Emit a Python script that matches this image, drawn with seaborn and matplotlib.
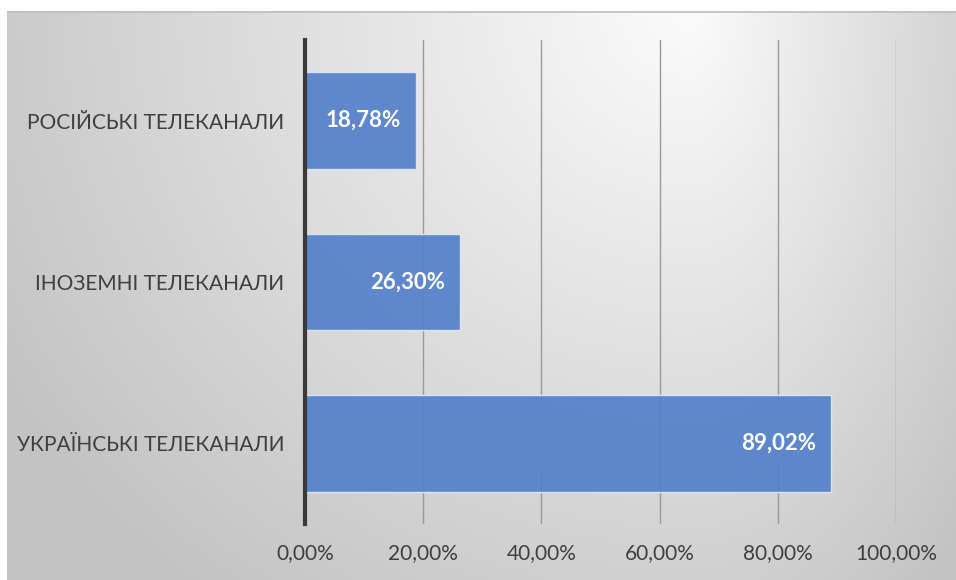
import numpy as np
import pandas as pd
import matplotlib
matplotlib.use('Agg')
import matplotlib.pyplot as plt
import seaborn as sns

categories = ['РОСІЙСЬКІ ТЕЛЕКАНАЛИ', 'ІНОЗЕМНІ ТЕЛЕКАНАЛИ', 'УКРАЇНСЬКІ ТЕЛЕКАНАЛИ']
values = [18.78, 26.30, 89.02]
x_ticks = [0, 20, 40, 60, 80, 100]

def pct_str(v):
    return f'{v:.2f}%'.replace('.', ',')

d = pd.DataFrame({'category': categories, 'value': values})

sns.set_style('white')
plt.rcParams['font.family'] = ['Lato', 'DejaVu Sans']

W, H = 956, 580
fig = plt.figure(figsize=(W / 100, H / 100), dpi=100)
fig.patch.set_facecolor('white')

# gradient background of the chart area
x0, y0 = 7, 11
bg = fig.add_axes([x0 / W, 0, 1 - x0 / W, 1 - y0 / H])
xs = np.arange(x0, W)
ys = np.arange(y0, H)
X, Y = np.meshgrid(xs, ys)
cx, cy = 690, 11
dx = np.where(X < cx, (X - cx) / 690.0, (X - cx) / 330.0)
dy = (Y - cy) / 640.0
r = np.clip(np.sqrt(dx ** 2 + dy ** 2), 0, 1.15)
v = 0.985 - 0.19 * r
bg.imshow(np.dstack([v, v, v]), aspect='auto', interpolation='bilinear')
bg.set_axis_off()
bg.axhline(0, color='#bdbdbd', lw=1.2)

ax = fig.add_axes([305 / W, 1 - 524 / H, (896 - 305) / W, (524 - 40) / H])
ax.set_facecolor('none')

sns.barplot(data=d, y='category', x='value', orient='h', ax=ax,
            color='#5682cb', saturation=1, alpha=0.94, width=0.6,
            edgecolor='#dfe8f6', linewidth=1.0, zorder=3)

ax.set_xlim(0, 100)
ax.set_xticks(x_ticks)
ax.set_xticklabels([pct_str(t) for t in x_ticks])
ax.xaxis.grid(True, color='#9a9a9a', lw=1.0, zorder=1)
ax.set_axisbelow(True)
for s in ['top', 'right', 'bottom']:
    ax.spines[s].set_visible(False)
ax.spines['left'].set_color('#3a3a3a')
ax.spines['left'].set_linewidth(3)
ax.spines['left'].set_zorder(5)
ax.tick_params(axis='both', length=0, labelsize=15, colors='#3f3f3f')
ax.tick_params(axis='x', pad=14)
ax.tick_params(axis='y', pad=15)
ax.set_xlabel('')
ax.set_ylabel('')

for i, val in enumerate(values):
    ax.annotate(pct_str(val), xy=(val, i), xytext=(-15, 0),
                textcoords='offset pixels', ha='right', va='center',
                color='white', fontsize=16, fontweight='bold', zorder=6)

fig.savefig('out.png', dpi=100)
